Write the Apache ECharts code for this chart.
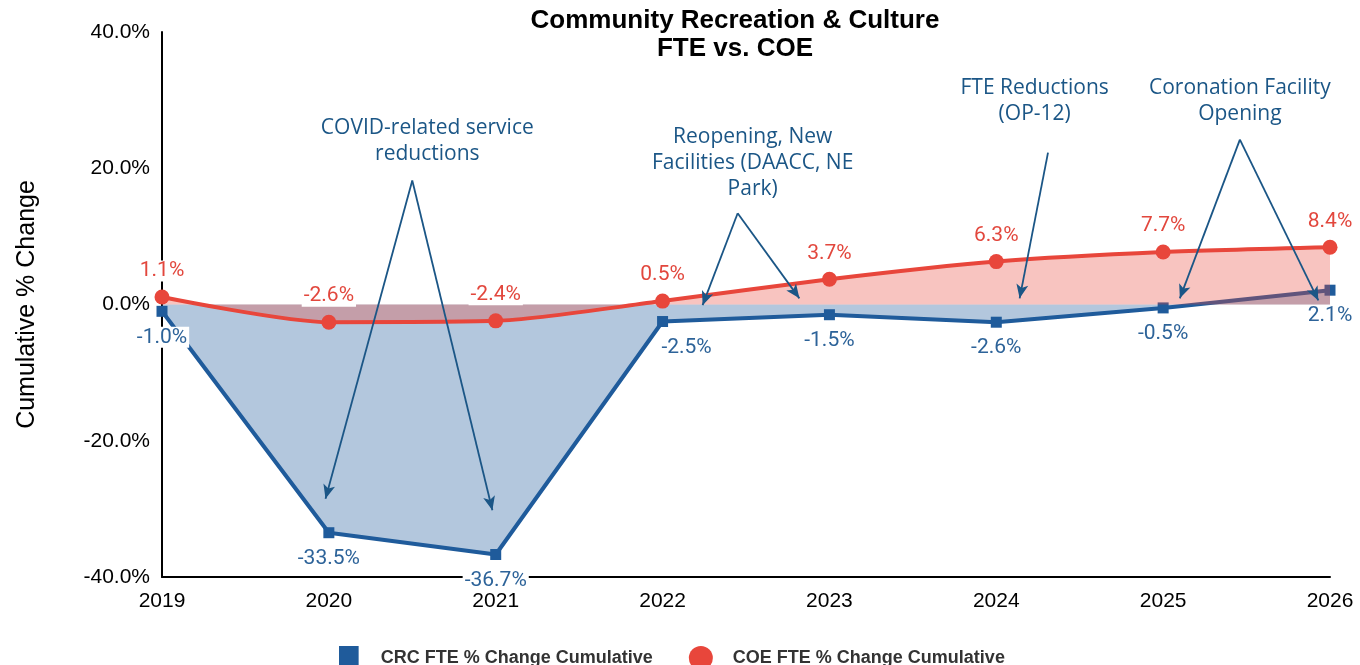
<!DOCTYPE html>
<html>
<head>
<meta charset="utf-8">
<script src="https://cdn.jsdelivr.net/npm/echarts@6/dist/echarts.min.js"></script>
<style>
  html, body { margin: 0; padding: 0; background: #fff; }
  #chart { width: 1360px; height: 665px; }
</style>
</head>
<body>
<div id="chart"></div>
<script>
// data
var years = [2019, 2020, 2021, 2022, 2023, 2024, 2025, 2026];
var crcFte = [-1.0, -33.5, -36.7, -2.5, -1.5, -2.6, -0.5, 2.1];
var coeFte = [1.1, -2.6, -2.4, 0.5, 3.7, 6.3, 7.7, 8.4];
var yTicks = [-40, -20, 0, 20, 40];

// annotation texts (center point in data coords) and arrows [from, to]
var noteTexts = [
  { text: 'COVID-related service\nreductions', at: [2020.59, 24.0] },
  { text: 'Reopening, New\nFacilities (DAACC, NE\nPark)', at: [2022.54, 20.7] },
  { text: 'FTE Reductions\n(OP-12)', at: [2024.23, 29.8] },
  { text: 'Coronation Facility\nOpening', at: [2025.46, 29.8] }
];
var noteArrows = [
  [[2020.50, 18.2], [2019.98, -28.5]],
  [[2020.50, 18.2], [2020.98, -30.2]],
  [[2022.45, 13.4], [2022.24, -0.1]],
  [[2022.45, 13.4], [2022.82, 0.9]],
  [[2024.31, 22.3], [2024.14, 0.9]],
  [[2025.46, 24.2], [2025.10, 0.9]],
  [[2025.46, 24.2], [2025.93, 0.6]]
];

var blue = '#1f5b9b';
var red = '#e8463b';
var noteColor = '#1b5686';

var chart = echarts.init(document.getElementById('chart'));

function pairs(vals) {
  return vals.map(function (v, i) { return [years[i], v]; });
}

var crcData = pairs(crcFte).map(function (p, i) {
  var d = { value: p };
  if (i === 3) d.label = { offset: [24, 0] };
  return d;
});

var option = {
  animation: false,
  title: {
    text: 'Community Recreation & Culture\nFTE vs. COE',
    left: 730,
    top: 2,
    textAlign: 'center',
    textStyle: {
      fontFamily: 'Liberation Sans',
      fontSize: 26,
      fontWeight: 'bold',
      color: '#000',
      lineHeight: 28
    }
  },
  legend: {
    top: 641,
    left: 334,
    itemGap: 36,
    itemWidth: 26,
    itemHeight: 24,
    textStyle: {
      fontFamily: 'Liberation Sans', fontSize: 18, fontWeight: 'bold', color: '#333',
      padding: [0, 0, 0, 14]
    },
    data: [
      { name: 'CRC FTE % Change Cumulative', icon: 'path://M0,0H18V22H0Z' },
      { name: 'COE FTE % Change Cumulative', icon: 'circle' }
    ]
  },
  grid: { left: 162, right: 30, top: 32, bottom: 88 },
  xAxis: {
    type: 'value',
    min: 2019,
    max: 2026,
    interval: 1,
    axisLine: { onZero: false, lineStyle: { color: '#000', width: 2 } },
    axisTick: { show: false },
    splitLine: { show: false },
    axisLabel: {
      fontFamily: 'Liberation Sans',
      fontSize: 21,
      color: '#000',
      margin: 14,
      formatter: function (v) { return String(v); }
    }
  },
  yAxis: {
    type: 'value',
    min: yTicks[0],
    max: yTicks[yTicks.length - 1],
    interval: 20,
    name: 'Cumulative % Change',
    nameLocation: 'middle',
    nameGap: 122,
    nameTextStyle: { fontFamily: 'Liberation Sans', fontSize: 25, color: '#000' },
    axisLine: { show: true, lineStyle: { color: '#000', width: 2 } },
    axisTick: { show: false },
    splitLine: { show: false },
    axisLabel: {
      fontFamily: 'Liberation Sans',
      fontSize: 21,
      color: '#000',
      margin: 12,
      formatter: function (v) { return v.toFixed(1) + '%'; }
    }
  },
  series: [
    {
      name: 'CRC FTE % Change Cumulative',
      type: 'line',
      data: crcData,
      symbol: 'rect',
      symbolSize: 11,
      itemStyle: { color: blue },
      lineStyle: { color: blue, width: 4 },
      areaStyle: { color: blue, opacity: 0.34, origin: 0 },
      label: {
        show: true,
        position: 'bottom',
        distance: 10,
        fontFamily: 'Roboto',
        fontSize: 21,
        color: '#2d6399',
        backgroundColor: '#fff',
        padding: [0, 2],
        formatter: function (p) { return p.value[1].toFixed(1) + '%'; }
      },
      z: 2
    },
    {
      name: 'COE FTE % Change Cumulative',
      type: 'line',
      data: pairs(coeFte),
      smooth: 0.25,
      symbol: 'circle',
      symbolSize: 15,
      itemStyle: { color: red },
      lineStyle: { color: red, width: 4 },
      areaStyle: { color: red, opacity: 0.32, origin: 0 },
      label: {
        show: true,
        position: 'top',
        distance: 8,
        fontFamily: 'Roboto',
        fontSize: 21,
        color: '#e2473d',
        backgroundColor: '#fff',
        padding: [0, 2],
        formatter: function (p) { return p.value[1].toFixed(1) + '%'; }
      },
      z: 3
    },
    {
      name: 'notes',
      type: 'line',
      data: [],
      z: 5,
      markLine: {
        silent: true,
        symbol: ['none', 'arrow'],
        symbolSize: [9, 14],
        label: { show: false },
        lineStyle: { color: noteColor, width: 1.8, type: 'solid' },
        data: noteArrows.map(function (a) {
          return [{ coord: a[0] }, { coord: a[1] }];
        })
      },
      markPoint: {
        silent: true,
        symbol: 'circle',
        symbolSize: 0,
        label: {
          show: true,
          position: 'inside',
          fontFamily: 'Open Sans',
          fontSize: 21,
          lineHeight: 26,
          color: noteColor,
          align: 'center',
          formatter: function (p) { return p.name; }
        },
        data: noteTexts.map(function (n) {
          return { name: n.text, coord: n.at };
        })
      }
    }
  ]
};

chart.setOption(option);
</script>
</body>
</html>
